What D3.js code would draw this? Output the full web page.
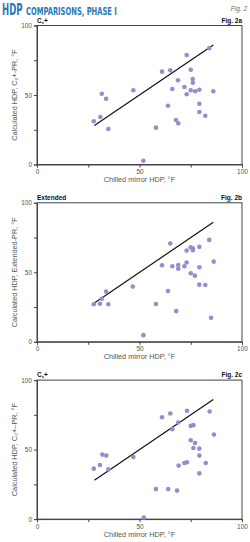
<!DOCTYPE html>
<html><head><meta charset="utf-8">
<script src="https://cdn.jsdelivr.net/npm/d3@7"></script>
<style>body{margin:0;background:#fff}svg{display:block}</style>
</head><body>
<script>
// Data (chilled mirror HDP °F, calculated HDP °F)
const panelNames = ["C₆+", "Extended", "C₆+"];
const figLabels = ["Fig. 2a", "Fig. 2b", "Fig. 2c"];
const yLabels = ["Calculated HDP, C₆+-PR, °F", "Calculated HDP, Extended-PR, °F", "Calculated HDP, C₆+–PR, °F"];
const xTicks = [0, 25, 50, 75, 100];
const yTicks = [0, 25, 50, 75, 100];
const fitLine = [[28, 28], [86, 86]];

const chilledA = [73.0,84.0,61.0,65.0,75.0,68.8,76.0,76.0,71.9,66.0,75.0,77.2,79.2,86.0,73.0,47.0,31.6,33.7,63.9,79.2,79.2,82.1,27.7,30.9,67.8,68.9,34.8,58.0,51.9];
const calcA    = [78.8,83.6,66.8,67.8,68.2,60.6,61.5,58.8,55.8,54.3,53.4,52.7,53.8,52.7,50.5,53.4,50.9,47.3,42.3,43.7,37.8,35.1,31.1,34.2,32.0,29.6,25.5,26.5,2.7];

const chilledB = [65.0,84.0,73.0,75.0,76.0,76.0,79.2,73.0,61.0,66.0,68.9,68.9,71.9,79.2,86.2,75.0,77.0,79.2,82.1,46.7,33.7,63.9,31.6,27.7,30.7,34.8,58.0,67.9,84.9,51.9];
const calcB    = [70.7,73.3,65.6,68.0,67.3,65.9,68.3,57.0,55.1,54.4,55.3,52.6,54.4,53.6,57.7,49.3,47.6,41.1,40.9,39.7,36.1,36.6,31.0,27.0,27.4,27.0,27.2,22.1,17.3,4.8];

const chilledC = [73.2,84.2,61.0,65.0,68.9,66.0,75.0,76.3,86.3,75.0,77.1,76.3,79.2,79.2,31.9,33.8,47.0,71.9,73.2,82.3,69.1,30.7,27.7,34.8,79.2,58.0,64.0,68.3,52.1];
const calcC    = [77.9,77.4,73.3,76.0,69.5,64.7,67.1,67.6,60.8,56.7,54.8,51.2,50.7,45.7,46.4,45.7,44.7,40.4,40.9,40.4,38.5,38.9,36.3,35.8,32.9,21.6,21.6,20.5,1.2];

const panels = [[chilledA, calcA], [chilledB, calcB], [chilledC, calcC]];

const W = 250, H = 542;
const svg = d3.select("body").append("svg").attr("width", W).attr("height", H);

// Title: condensed by horizontal scaling
const titleFont = "'Liberation Sans Narrow','DejaVu Sans Condensed',sans-serif";
function squeezed(txt, size, x0, y0, targetW) {
  const t = svg.append("text").attr("x", 0).attr("y", 0)
    .attr("fill", "#2b78b6").attr("font-family", titleFont).attr("font-weight", "bold")
    .attr("font-size", size).text(txt);
  const w = t.node().getComputedTextLength();
  t.attr("transform", `translate(${x0},${y0}) scale(${targetW / w},1)`);
}
squeezed("HDP", 16, 2, 15, 20.5);
squeezed("COMPARISONS, PHASE I", 11, 26, 15, 91);
svg.append("text").attr("x", 247).attr("y", 11).attr("text-anchor", "end")
  .attr("font-family", "'Liberation Sans Narrow',sans-serif").attr("font-style", "italic")
  .attr("font-size", 6.5).attr("fill", "#666").text("Fig. 2");

const font = "'Liberation Sans','Arial',sans-serif";
const x = d3.scaleLinear().domain([0, 100]).range([37, 242]);

panels.forEach(([xs, ys], i) => {
  const top = 25.5 + i * 177.3;
  const bottom = top + 139;
  const y = d3.scaleLinear().domain([0, 100]).range([bottom, top]);
  const g = svg.append("g");

  g.append("rect").attr("x", x(0)).attr("y", y(100)).attr("width", x(100) - x(0)).attr("height", y(0) - y(100))
    .attr("fill", "none").attr("stroke", "#444").attr("stroke-width", 1);

  const xa = g.append("g").attr("transform", `translate(0,${y(0)})`)
    .call(d3.axisBottom(x).tickValues(xTicks).tickSize(3).tickPadding(2)
      .tickFormat(d => d % 50 === 0 ? d : ""));
  const ya = g.append("g").attr("transform", `translate(${x(0)},0)`)
    .call(d3.axisLeft(y).tickValues(yTicks).tickSize(3).tickPadding(2)
      .tickFormat(d => d % 50 === 0 ? d : ""));
  [xa, ya].forEach(a => {
    a.select(".domain").attr("stroke", "#444");
    a.selectAll("line").attr("stroke", "#444");
    a.selectAll("text").attr("font-family", font).attr("font-size", 6.5).attr("fill", "#555");
  });

  g.append("line").attr("x1", x(fitLine[0][0])).attr("y1", y(fitLine[0][1]))
    .attr("x2", x(fitLine[1][0])).attr("y2", y(fitLine[1][1]))
    .attr("stroke", "#111").attr("stroke-width", 1.2);

  g.selectAll("circle").data(xs.map((v, k) => [v, ys[k]])).join("circle")
    .attr("cx", d => x(d[0])).attr("cy", d => y(d[1])).attr("r", 2.3)
    .attr("fill", "#9c8ace");

  const nm = g.append("text").attr("x", x(0)).attr("y", top - 3)
    .attr("font-family", font).attr("font-weight", "bold").attr("font-size", 6.5).attr("fill", "#111");
  const name = panelNames[i];
  if (name.startsWith("C")) {
    nm.append("tspan").text("C");
    nm.append("tspan").attr("font-size", 5).attr("dy", 1).text(name.slice(1, 2));
    nm.append("tspan").attr("dy", -1).text("+");
  } else nm.text(name);
  g.append("text").attr("x", x(100)).attr("y", top - 3).attr("text-anchor", "end")
    .attr("font-family", font).attr("font-weight", "bold").attr("font-size", 6.5).attr("fill", "#111")
    .text(figLabels[i]);

  g.append("text").attr("x", (x(0) + x(100)) / 2).attr("y", bottom + 17.5).attr("text-anchor", "middle")
    .attr("font-family", font).attr("font-size", 7.3).attr("fill", "#555").text("Chilled mirror HDP, °F");
  g.append("text").attr("transform", `translate(17,${(top + bottom) / 2}) rotate(-90)`).attr("text-anchor", "middle")
    .attr("font-family", font).attr("font-size", 7.3).attr("fill", "#555").text(yLabels[i]);
});
</script>
</body></html>
